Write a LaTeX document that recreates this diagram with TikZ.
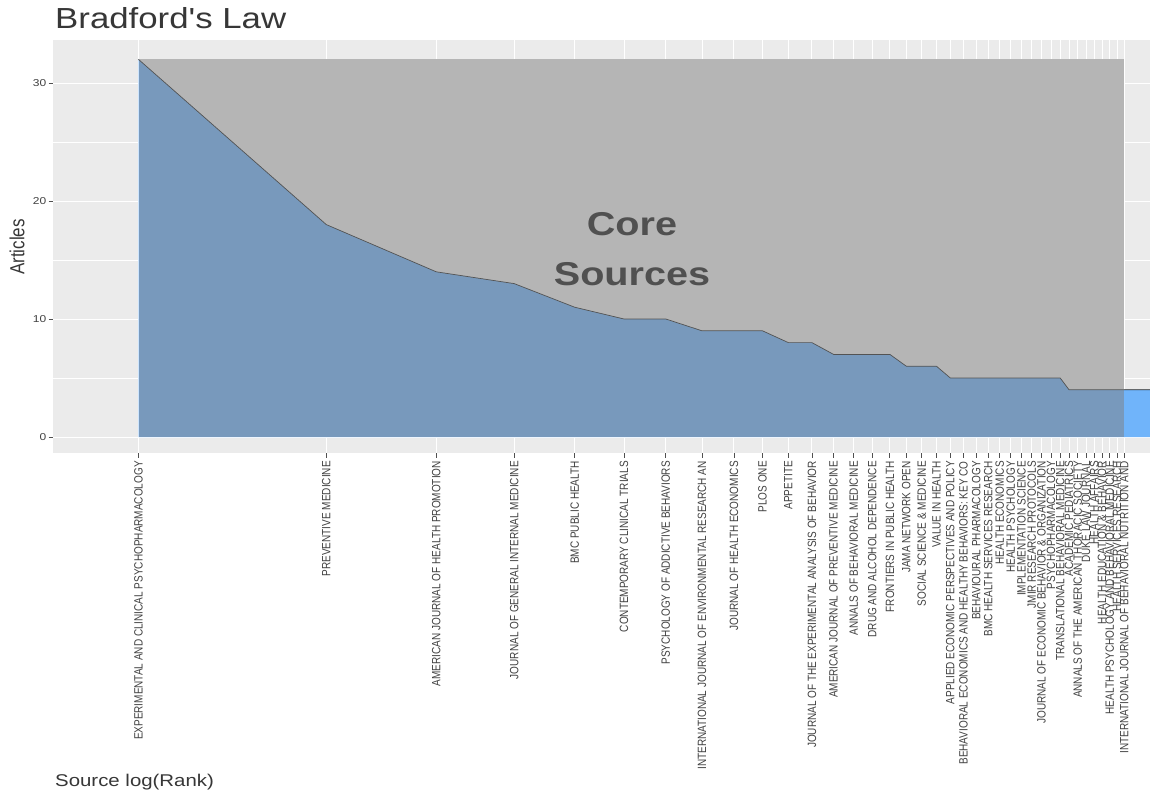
\documentclass[tikz,border=0pt]{standalone}
\usepackage{fontspec}
\setmainfont{Liberation Sans}
\usepackage{graphicx}
\definecolor{panelbg}{RGB}{235,235,235}
\definecolor{areablue}{RGB}{112,180,250}
\definecolor{txtdark}{RGB}{55,55,55}
\definecolor{ticklab}{RGB}{65,65,65}
\definecolor{coretxt}{RGB}{80,80,80}
\definecolor{tickcol}{RGB}{80,80,80}
\begin{document}
\begin{tikzpicture}[x=1pt,y=-1pt,
  ticklabel/.style={text=ticklab, font=\fontsize{10}{12}\selectfont, inner sep=0pt},
  xlab/.style={ticklabel, rotate=90, anchor=east},
  gridmajor/.style={draw=white, line width=1pt},
  gridminor/.style={draw=white, line width=0.5pt},
  tickmark/.style={draw=tickcol, line width=0.8pt},
  coretext/.style={text=coretxt, font=\fontsize{33}{40}\selectfont\bfseries, inner sep=0pt},
  axistitle/.style={text=txtdark, font=\fontsize{17}{20}\selectfont, inner sep=0pt},
  titletext/.style={text=txtdark, font=\fontsize{29}{33}\selectfont, inner sep=0pt}]
\useasboundingbox[fill=white] (0,0) rectangle (1150,796);
% panel
\fill[panelbg] (53,40) rectangle (1150,453);
\foreach \v in {0,10,20,30} \draw[gridmajor] (53,{437-11.8*\v}) -- (1150,{437-11.8*\v});
\foreach \v in {5,15,25} \draw[gridminor] (53,{437-11.8*\v}) -- (1150,{437-11.8*\v});
\foreach \r in {1,...,38} \draw[gridmajor] ({138.5+271*ln(\r)},40) -- ++(0,413);
% plain background under the core-sources band
\fill[panelbg] (139.2,{437-11.8*32}) rectangle ({138.5+271*ln(38)},437);
% area
\fill[areablue] (138.5,437)
  foreach \r/\v in {1/32,2/18,3/14,4/13,5/11,6/10,7/10,8/9,9/9,10/9,11/8,12/8,13/7,14/7,15/7,16/7,17/6,18/6,19/6,20/5,21/5,22/5,23/5,24/5,25/5,26/5,27/5,28/5,29/5,30/5,31/4,32/4,33/4,34/4,35/4,36/4,37/4,38/4}
  { -- ({138.5+271*ln(\r)},{437-11.8*\v}) }
  -- (1150,{437-11.8*4}) -- (1150,437) -- cycle;
\draw[black!85, line width=0.7pt] (138.5,{437-11.8*32})
  foreach \r/\v in {2/18,3/14,4/13,5/11,6/10,7/10,8/9,9/9,10/9,11/8,12/8,13/7,14/7,15/7,16/7,17/6,18/6,19/6,20/5,21/5,22/5,23/5,24/5,25/5,26/5,27/5,28/5,29/5,30/5,31/4,32/4,33/4,34/4,35/4,36/4,37/4,38/4}
  { -- ({138.5+271*ln(\r)},{437-11.8*\v}) }
  -- (1150,{437-11.8*4});
% core sources rectangle
\fill[black!50, opacity=0.5] (138.5,{437-11.8*32}) rectangle ({138.5+271*ln(38)},437);
\node[coretext, anchor=base] (core) at (632,235) {\scalebox{1.2}[1]{Core}};
\node[coretext, anchor=base] (sources) at (632,285) {\scalebox{1.2}[1]{Sources}};
% y axis
\foreach \v in {0,10,20,30} {
  \draw[tickmark] (48.5,{437-11.8*\v}) -- (53,{437-11.8*\v});
  \node[ticklabel, anchor=east] (yl\v) at (46.5,{437-11.8*\v}) {\scalebox{1.2}[1]{\v}};
}
% x axis
\foreach \r/\t in {
 1/{EXPERIMENTAL AND CLINICAL PSYCHOPHARMACOLOGY},
 2/{PREVENTIVE MEDICINE},
 3/{AMERICAN JOURNAL OF HEALTH PROMOTION},
 4/{JOURNAL OF GENERAL INTERNAL MEDICINE},
 5/{BMC PUBLIC HEALTH},
 6/{CONTEMPORARY CLINICAL TRIALS},
 7/{PSYCHOLOGY OF ADDICTIVE BEHAVIORS},
 8/{INTERNATIONAL JOURNAL OF ENVIRONMENTAL RESEARCH AN},
 9/{JOURNAL OF HEALTH ECONOMICS},
 10/{PLOS ONE},
 11/{APPETITE},
 12/{JOURNAL OF THE EXPERIMENTAL ANALYSIS OF BEHAVIOR},
 13/{AMERICAN JOURNAL OF PREVENTIVE MEDICINE},
 14/{ANNALS OF BEHAVIORAL MEDICINE},
 15/{DRUG AND ALCOHOL DEPENDENCE},
 16/{FRONTIERS IN PUBLIC HEALTH},
 17/{JAMA NETWORK OPEN},
 18/{SOCIAL SCIENCE \& MEDICINE},
 19/{VALUE IN HEALTH},
 20/{APPLIED ECONOMIC PERSPECTIVES AND POLICY},
 21/{BEHAVIORAL ECONOMICS AND HEALTHY BEHAVIORS: KEY CO},
 22/{BEHAVIOURAL PHARMACOLOGY},
 23/{BMC HEALTH SERVICES RESEARCH},
 24/{HEALTH ECONOMICS},
 25/{HEALTH PSYCHOLOGY},
 26/{IMPLEMENTATION SCIENCE},
 27/{JMIR RESEARCH PROTOCOLS},
 28/{JOURNAL OF ECONOMIC BEHAVIOR \& ORGANIZATION},
 29/{PSYCHOPHARMACOLOGY},
 30/{TRANSLATIONAL BEHAVIORAL MEDICINE},
 31/{ACADEMIC PEDIATRICS},
 32/{ANNALS OF THE AMERICAN THORACIC SOCIETY},
 33/{DUKE LAW JOURNAL},
 34/{HEALTH AFFAIRS},
 35/{HEALTH EDUCATION \& BEHAVIOR},
 36/{HEALTH PSYCHOLOGY AND BEHAVIORAL MEDICINE},
 37/{HEALTH SERVICES RESEARCH},
 38/{INTERNATIONAL JOURNAL OF BEHAVIORAL NUTRITION AND}} {
  \draw[tickmark] ({138.5+271*ln(\r)},453) -- ++(0,4.5);
  \node[xlab] (xl\r) at ({138.5+271*ln(\r)},461) {\scalebox{1}[1.2]{\t}};
}
% titles
\node[titletext, anchor=base west] (title) at (55,28.5) {\scalebox{1.2}[1]{Bradford\textquotesingle s Law}};
\node[axistitle, rotate=90] (ytitle) at (17,247) {\scalebox{1}[1.2]{Articles}};
\node[axistitle, anchor=base west] (xtitle) at (55,786) {\scalebox{1.2}[1]{Source log(Rank)}};
\end{tikzpicture}
\end{document}
